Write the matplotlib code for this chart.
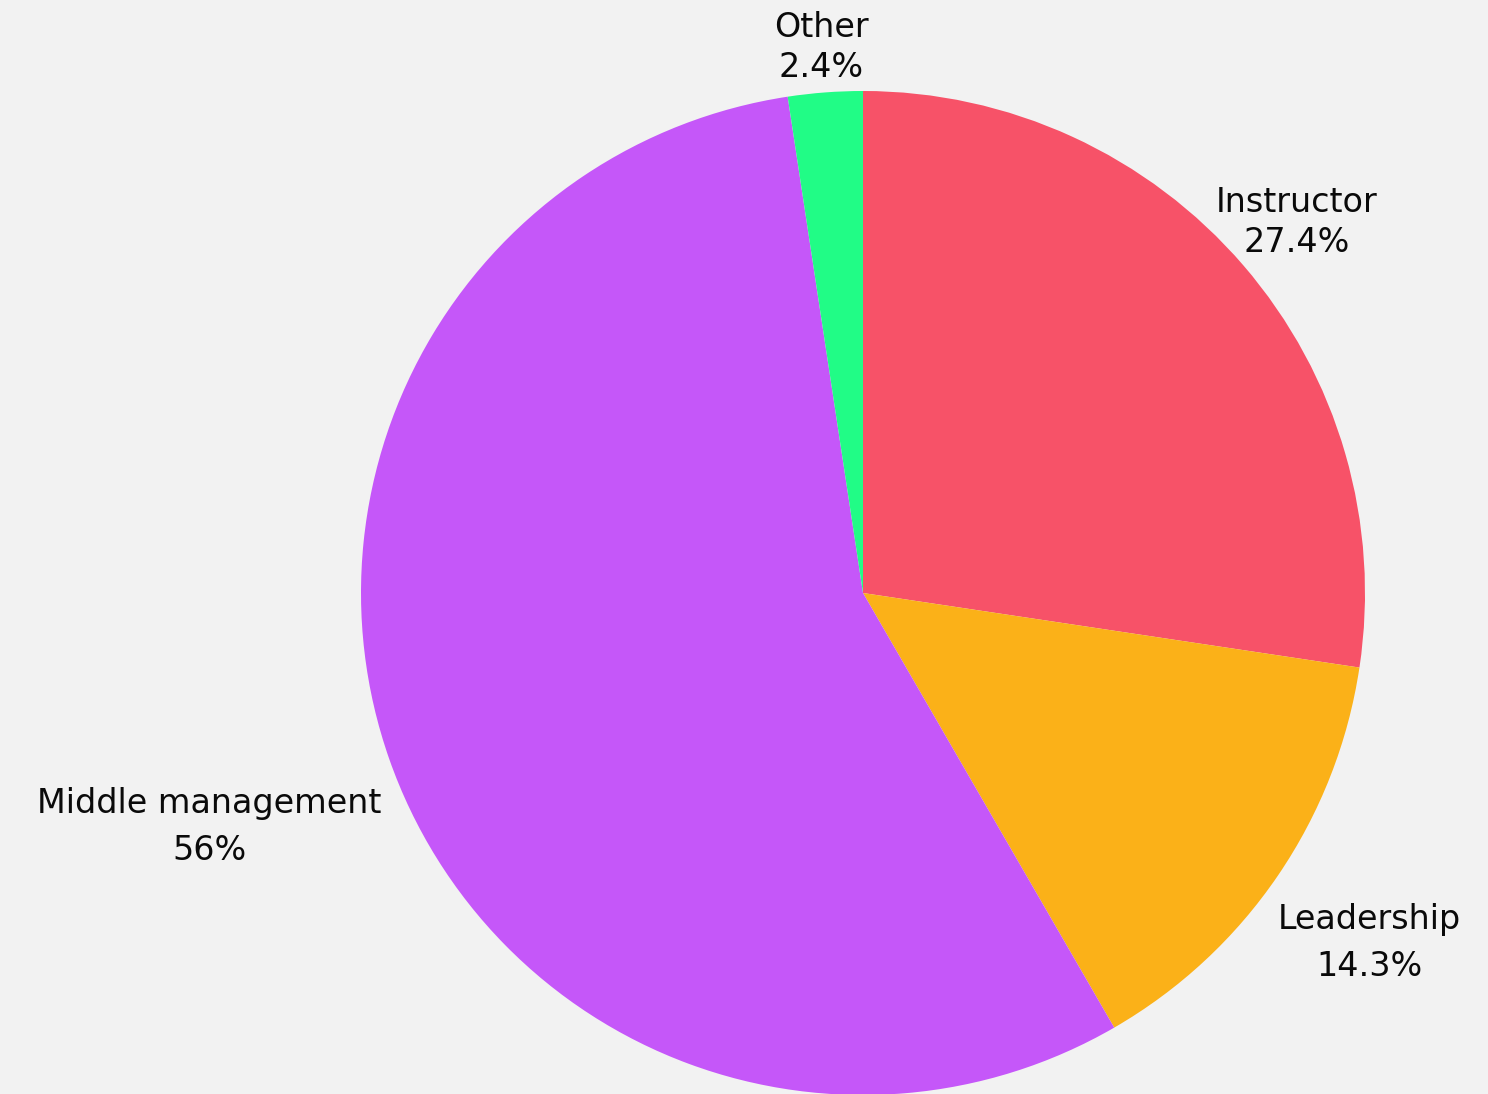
import numpy as np
import matplotlib
matplotlib.use("Agg")
import matplotlib.pyplot as plt
from matplotlib.transforms import offset_copy

labels = ["Instructor", "Leadership", "Middle management", "Other"]
values = [27.4, 14.3, 56.0, 2.4]
pct_labels = ["27.4%", "14.3%", "56%", "2.4%"]
colors = ["#F75268", "#FBB118", "#C557F9", "#21FC86"]

# label placement (distance factor from centre, line spacing, vertical nudge in px)
label_dist = [1.14, 1.22, 1.38, 1.10]
line_sp = [1.25, 1.55, 1.55, 1.25]
nudge_px = [-3, -5, -5, -5]

W, H = 1488, 1094
cx, cy, R = 863, 593, 502
bg = "#F2F2F2"

fig = plt.figure(figsize=(W / 100, H / 100), dpi=100, facecolor=bg)
ax = fig.add_axes([0, 0, 1, 1])
ax.set_facecolor(bg)

wedges, _ = ax.pie(values, colors=colors, startangle=90, counterclock=False,
                   radius=1.0, wedgeprops=dict(linewidth=0))

ax.set_xlim(-cx / R, (W - cx) / R)
ax.set_ylim(-(H - cy) / R, cy / R)
ax.set_aspect("equal")
ax.axis("off")

for w, name, pct, d, ls, nd in zip(wedges, labels, pct_labels, label_dist, line_sp, nudge_px):
    ang = np.deg2rad((w.theta1 + w.theta2) / 2)
    x, y = d * np.cos(ang), d * np.sin(ang)
    tr = offset_copy(ax.transData, fig=fig, x=0, y=nd, units="dots")
    ax.text(x, y, f"{name}\n{pct}", ha="center", va="center", fontsize=24,
            family=["DejaVu Sans"], color="#0a0a0a", linespacing=ls,
            multialignment="center", transform=tr)

fig.savefig("out.png", dpi=100, facecolor=bg)
